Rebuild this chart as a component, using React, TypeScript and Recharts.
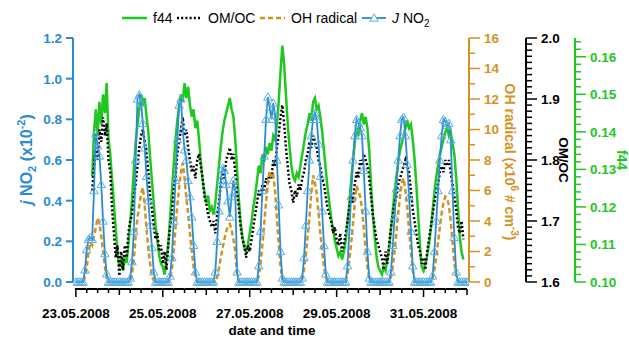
import React from 'react';
import { ComposedChart, Line, XAxis, YAxis } from 'recharts';

const FONT = '"Liberation Sans", Arial, Helvetica, sans-serif';
const BLUE = '#2a8bd3';
const BLUE_LIGHT = '#5aaee3';
const ORANGE = '#d4921f';
const GREEN = '#1ec81e';
const BLACK = '#000000';

// x axis: hours since 23.05.2008 00:00
const dateTickHours = [0, 48, 96, 144, 192];
const dateLabels = ['23.05.2008', '25.05.2008', '27.05.2008', '29.05.2008', '31.05.2008'];
const xTicks = Array.from({ length: 37 }, (_, i) => i * 6);

const jno2Ticks = [0, 0.2, 0.4, 0.6, 0.8, 1.0, 1.2];
const ohTicks = Array.from({ length: 17 }, (_, i) => i);
const omocTicks = Array.from({ length: 41 }, (_, i) => +(1.6 + i * 0.01).toFixed(2));
const f44Ticks = Array.from({ length: 33 }, (_, i) => +(0.1 + i * 0.002).toFixed(3));

// J NO2 (x10^-2 s^-1), hourly
const jno2 = [
  0, 0, 0, 0, 0, 0.06, 0.16, 0.21, 0.22, 0.21, 0.45, 0.73, 0.67, 0.62, 0.48, 0.3, 0.14, 0.04, 0, 0, 0, 0, 0, 0,
  0, 0, 0, 0, 0, 0, 0.02, 0.1, 0.25, 0.6, 0.9, 0.92, 0.88, 0.78, 0.66, 0.52, 0.4, 0.28, 0.17, 0.05, 0, 0, 0, 0,
  0, 0, 0, 0, 0.03, 0.12, 0.3, 0.5, 0.7, 0.87, 0.9, 0.75, 0.65, 0.6, 0.5, 0.42, 0.32, 0.18, 0.05, 0, 0, 0, 0, 0,
  0, 0, 0, 0, 0, 0.05, 0.2, 0.35, 0.5, 0.56, 0.55, 0.48, 0.4, 0.32, 0.42, 0.5, 0.45, 0.05, 0, 0, 0, 0, 0, 0,
  0, 0, 0, 0, 0, 0.08, 0.25, 0.45, 0.62, 0.8, 0.91, 0.86, 0.8, 0.88, 0.82, 0.6, 0.38, 0.15, 0.02, 0, 0, 0, 0, 0,
  0, 0, 0, 0, 0, 0.02, 0.12, 0.28, 0.45, 0.6, 0.72, 0.8, 0.83, 0.8, 0.68, 0.52, 0.35, 0.18, 0.04, 0, 0, 0, 0, 0,
  0, 0, 0, 0, 0, 0, 0.08, 0.25, 0.42, 0.6, 0.72, 0.8, 0.78, 0.76, 0.72, 0.55, 0.35, 0.15, 0.02, 0, 0, 0, 0, 0,
  0, 0, 0, 0, 0, 0, 0.05, 0.18, 0.32, 0.46, 0.6, 0.72, 0.8, 0.81, 0.72, 0.58, 0.42, 0.25, 0.08, 0, 0, 0, 0, 0,
  0, 0, 0, 0, 0, 0.03, 0.15, 0.3, 0.45, 0.6, 0.72, 0.8, 0.79, 0.77, 0.78, 0.7, 0.45, 0.22, 0.05, 0, 0, 0, 0, 0,
  0,
];

// OH radical (x10^6 # cm^-3), hourly
const oh = [
  0, 0, 0, 0, 0, 0.3, 1.0, 2.0, 2.6, 2.4, 3.0, 3.6, 4.2, 3.8, 3.0, 2.0, 1.0, 0.3, 0, 0, 0, 0, 0, 0,
  0, 0, 0, 0, 0, 0, 0, 0.5, 1.5, 3.0, 4.2, 5.0, 5.8, 6.2, 5.0, 3.5, 2.2, 1.2, 0.4, 0.1, 0, 0, 0, 0,
  0, 0, 0, 0, 0.2, 0.8, 2.0, 3.5, 5.0, 6.2, 7.2, 7.8, 6.8, 5.5, 4.5, 3.2, 2.0, 1.0, 0.3, 0, 0, 0, 0, 0,
  0, 0, 0, 0, 0, 0, 0.3, 0.9, 1.6, 2.2, 2.8, 3.3, 3.7, 3.8, 3.4, 2.8, 2.0, 0.5, 0, 0, 0, 0, 0, 0,
  0, 0, 0, 0, 0, 0.4, 1.2, 2.5, 3.8, 5.2, 6.5, 7.3, 6.8, 7.0, 6.0, 4.2, 2.5, 1.0, 0.2, 0, 0, 0, 0, 0,
  0, 0, 0, 0, 0, 0.2, 0.8, 1.8, 3.0, 4.3, 5.8, 7.0, 6.5, 5.8, 4.5, 3.2, 2.0, 1.0, 0.3, 0, 0, 0, 0, 0,
  0, 0, 0, 0, 0, 0, 0.5, 1.4, 2.5, 3.8, 5.2, 6.3, 6.0, 5.6, 4.8, 3.5, 2.2, 1.0, 0.2, 0, 0, 0, 0, 0,
  0, 0, 0, 0, 0, 0, 0.3, 1.0, 2.0, 3.2, 4.5, 5.6, 6.5, 6.8, 6.0, 4.8, 3.4, 2.0, 0.8, 0.2, 0, 0, 0, 0,
  0, 0, 0, 0, 0, 0.2, 0.8, 1.6, 2.6, 3.6, 4.5, 5.2, 5.6, 5.5, 5.0, 4.0, 2.6, 1.3, 0.4, 0, 0, 0, 0, 0,
  0,
];

// OM/OC, hourly
const omoc = [
  null, null, null, null, null, null, null, null, null, 1.75, 1.79, 1.82, 1.8, 1.85, 1.83, 1.87, 1.84, 1.86, 1.8, 1.78, 1.72, 1.68, 1.64, 1.66,
  1.61, 1.65, 1.62, 1.66, 1.64, 1.68, 1.7, 1.71, 1.74, 1.76, 1.79, 1.82, 1.84, 1.85, 1.83, 1.81, 1.78, 1.74, 1.72, 1.69, 1.67, 1.68, 1.65, 1.66,
  1.63, 1.65, 1.62, 1.66, 1.69, 1.71, 1.75, 1.77, 1.81, 1.83, 1.85, 1.87, 1.84, 1.85, 1.82, 1.8, 1.78, 1.79, 1.77, 1.8, 1.81, 1.79, 1.77, 1.74,
  1.73, 1.71, 1.7, 1.69, 1.7, 1.68, 1.71, 1.73, 1.76, 1.78, 1.77, 1.8, 1.81, 1.82, 1.8, 1.81, 1.78, 1.75, 1.72, 1.69, 1.67, 1.66, 1.64, 1.66,
  1.65, 1.67, 1.69, 1.71, 1.73, 1.75, 1.74, 1.76, 1.75, 1.77, 1.76, 1.78, 1.77, 1.8, 1.79, 1.82, 1.84, 1.87, 1.89, 1.86, 1.82, 1.79, 1.76, 1.75,
  1.73, 1.75, 1.74, 1.76, 1.75, 1.77, 1.78, 1.8, 1.81, 1.83, 1.82, 1.84, 1.83, 1.82, 1.8, 1.79, 1.77, 1.76, 1.74, 1.72, 1.71, 1.7, 1.68, 1.69,
  1.67, 1.66, 1.68, 1.65, 1.66, 1.68, 1.7, 1.72, 1.74, 1.73, 1.76, 1.78, 1.77, 1.8, 1.79, 1.81, 1.8, 1.79, 1.77, 1.74, 1.71, 1.69, 1.67, 1.66,
  1.65, 1.64, 1.62, 1.65, 1.63, 1.66, 1.69, 1.71, 1.73, 1.74, 1.76, 1.77, 1.78, 1.79, 1.8, 1.79, 1.78, 1.75, 1.72, 1.7, 1.68, 1.66, 1.65, 1.63,
  1.64, 1.62, 1.65, 1.67, 1.69, 1.71, 1.73, 1.75, 1.76, 1.78, 1.79, 1.78, 1.8, 1.79, 1.8, 1.78, 1.76, 1.74, 1.72, 1.69, 1.68, 1.7, 1.67, null,
  null,
];

// f44, hourly
const f44 = [
  null, null, null, null, null, null, null, null, null, 0.128, 0.14, 0.146, 0.139, 0.148, 0.142, 0.15, 0.145, 0.153, 0.138, 0.134, 0.127, 0.121, 0.114, 0.108,
  0.104, 0.106, 0.103, 0.107, 0.105, 0.11, 0.116, 0.122, 0.13, 0.137, 0.142, 0.146, 0.15, 0.147, 0.149, 0.144, 0.14, 0.133, 0.127, 0.121, 0.115, 0.111, 0.107, 0.105,
  0.104, 0.102, 0.106, 0.11, 0.117, 0.124, 0.131, 0.138, 0.143, 0.147, 0.15, 0.148, 0.153, 0.149, 0.152, 0.147, 0.144, 0.146, 0.141, 0.143, 0.138, 0.132, 0.127, 0.124,
  0.121, 0.123, 0.119, 0.12, 0.118, 0.121, 0.126, 0.131, 0.136, 0.14, 0.143, 0.145, 0.147, 0.149, 0.146, 0.144, 0.138, 0.13, 0.122, 0.116, 0.112, 0.109, 0.108, 0.11,
  0.113, 0.116, 0.12, 0.123, 0.127, 0.131, 0.129, 0.134, 0.132, 0.136, 0.134, 0.137, 0.135, 0.139, 0.138, 0.142, 0.148, 0.156, 0.163, 0.158, 0.15, 0.142, 0.136, 0.131,
  0.128, 0.127, 0.129, 0.128, 0.131, 0.134, 0.137, 0.14, 0.142, 0.145, 0.143, 0.148, 0.149, 0.146, 0.147, 0.144, 0.14, 0.135, 0.13, 0.125, 0.121, 0.117, 0.114, 0.111,
  0.109, 0.107, 0.108, 0.106, 0.108, 0.111, 0.116, 0.121, 0.127, 0.132, 0.137, 0.141, 0.139, 0.143, 0.145, 0.142, 0.144, 0.141, 0.135, 0.126, 0.118, 0.112, 0.107, 0.104,
  0.103, 0.102, 0.104, 0.103, 0.106, 0.109, 0.114, 0.119, 0.124, 0.128, 0.132, 0.135, 0.137, 0.139, 0.141, 0.143, 0.141, 0.142, 0.138, 0.133, 0.126, 0.118, 0.11, 0.104,
  0.103, 0.105, 0.107, 0.11, 0.114, 0.119, 0.124, 0.128, 0.131, 0.134, 0.136, 0.138, 0.14, 0.141, 0.139, 0.14, 0.137, 0.134, 0.128, 0.12, 0.112, 0.108, 0.106, null,
  null,
];

const table = jno2.map((v, i) => ({
  t: i,
  jno2: v,
  oh: oh[i],
  omoc: omoc[i],
  f44: f44[i],
}));

const X_DOMAIN: [number, number] = [-1.6, 217.1];
const PLOT_W = 396;
const PX_PER_HOUR = PLOT_W / (X_DOMAIN[1] - X_DOMAIN[0]);

const XTick = (props: any) => {
  const { x, y, payload } = props;
  const v = payload.value;
  const seg = v < 216 ? 6 * PX_PER_HOUR : 0;
  const len = v % 48 === 0 ? 8 : v % 24 === 0 ? 6 : 4;
  const ay = y + 7;
  const idx = dateTickHours.indexOf(v);
  return (
    <g>
      <line x1={x - (v === 0 ? 1 : 0)} x2={x + seg} y1={ay} y2={ay} stroke={BLACK} strokeWidth={2} />
      <line x1={x} x2={x} y1={ay} y2={ay + len} stroke={BLACK} strokeWidth={1.5} />
      {idx >= 0 && (
        <text x={x} y={ay + 29} textAnchor="middle" fill={BLACK} fontWeight="bold" fontSize={13.5} fontFamily={FONT}>
          {dateLabels[idx]}
        </text>
      )}
    </g>
  );
};

const LeftTick = (props: any) => {
  const { x, y, payload } = props;
  return (
    <g>
      <line x1={x - 7} x2={x} y1={y} y2={y} stroke={BLUE} strokeWidth={2} />
      <text x={x - 11} y={y} dy="0.36em" textAnchor="end" fill={BLUE} fontWeight="bold" fontSize={13.5} fontFamily={FONT}>
        {Number(payload.value).toFixed(1)}
      </text>
    </g>
  );
};

const makeRightTick = (color: string, isMajor: (v: number) => boolean, fmt: (v: number) => string) => (props: any) => {
  const { x, y, payload } = props;
  const v = Number(payload.value);
  const major = isMajor(v);
  return (
    <g>
      <line x1={x} x2={x + (major ? 11 : 6)} y1={y} y2={y} stroke={color} strokeWidth={1.5} />
      {major && (
        <text x={x + 15} y={y} dy="0.36em" textAnchor="start" fill={color} fontWeight="bold" fontSize={13.5} fontFamily={FONT}>
          {fmt(v)}
        </text>
      )}
    </g>
  );
};

const OhTick = makeRightTick(ORANGE, (v) => Math.round(v) % 2 === 0, (v) => String(Math.round(v)));
const OmocTick = makeRightTick(BLACK, (v) => Math.round(v * 100) % 10 === 0, (v) => v.toFixed(1));
const F44Tick = makeRightTick(GREEN, (v) => Math.round(v * 1000) % 10 === 0, (v) => v.toFixed(2));

const TriangleDot = (props: any) => {
  const { cx, cy, index } = props;
  if (cx == null || cy == null) return <g key={`e${index}`} />;
  return (
    <path
      key={`t${index}`}
      d={`M${cx},${cy - 4.2} L${cx + 4.2},${cy + 3.2} L${cx - 4.2},${cy + 3.2} Z`}
      fill="none"
      stroke={BLUE_LIGHT}
      strokeWidth={1}
    />
  );
};

const boldText = { fontFamily: FONT, fontWeight: 'bold' as const };

export default function App() {
  return (
    <div style={{ position: 'absolute', left: 0, top: 0, width: 629, height: 338, background: '#fff' }}>
      <ComposedChart width={629} height={338} data={table} margin={{ top: 38, right: 0, bottom: 0, left: 0 }}>
        <XAxis
          type="number"
          dataKey="t"
          domain={X_DOMAIN}
          allowDataOverflow
          ticks={xTicks}
          interval={0}
          tickSize={0}
          tickMargin={0}
          axisLine={false}
          tickLine={false}
          tick={<XTick />}
          height={56}
        />
        <YAxis
          yAxisId="a_j"
          orientation="left"
          width={73}
          domain={[0, 1.2]}
          ticks={jno2Ticks}
          interval={0}
          tickSize={0}
          tickMargin={0}
          tickLine={false}
          axisLine={{ stroke: BLUE, strokeWidth: 2 }}
          tick={<LeftTick />}
        />
        <YAxis
          yAxisId="b_oh"
          orientation="right"
          width={57}
          domain={[0, 16]}
          ticks={ohTicks}
          interval={0}
          tickSize={0}
          tickMargin={0}
          tickLine={false}
          axisLine={{ stroke: ORANGE, strokeWidth: 2 }}
          tick={<OhTick />}
        />
        <YAxis
          yAxisId="c_omoc"
          orientation="right"
          width={49}
          domain={[1.6, 2.0]}
          ticks={omocTicks}
          interval={0}
          tickSize={0}
          tickMargin={0}
          tickLine={false}
          axisLine={{ stroke: BLACK, strokeWidth: 2 }}
          tick={<OmocTick />}
        />
        <YAxis
          yAxisId="d_f44"
          orientation="right"
          width={54}
          domain={[0.1, 0.165]}
          ticks={f44Ticks}
          interval={0}
          tickSize={0}
          tickMargin={0}
          tickLine={false}
          axisLine={{ stroke: GREEN, strokeWidth: 2 }}
          tick={<F44Tick />}
        />
        <Line yAxisId="d_f44" dataKey="f44" type="linear" stroke={GREEN} strokeWidth={2.5} dot={false} activeDot={false} isAnimationActive={false} />
        <Line yAxisId="c_omoc" dataKey="omoc" type="linear" stroke={BLACK} strokeWidth={2.5} strokeDasharray="2 2.2" dot={false} activeDot={false} isAnimationActive={false} />
        <Line yAxisId="b_oh" dataKey="oh" type="linear" stroke={ORANGE} strokeWidth={2.5} strokeDasharray="5 3" dot={false} activeDot={false} isAnimationActive={false} />
        <Line yAxisId="a_j" dataKey="jno2" type="linear" stroke={BLUE} strokeWidth={1.8} dot={TriangleDot} activeDot={false} isAnimationActive={false} />
      </ComposedChart>
      <svg width={629} height={338} style={{ position: 'absolute', left: 0, top: 0, pointerEvents: 'none' }}>
        {/* legend */}
        <g fontFamily={FONT} fontSize={14} fill={BLACK}>
          <line x1={122} x2={147} y1={18} y2={18} stroke={GREEN} strokeWidth={2.5} />
          <text x={153} y={23}>f44</text>
          <line x1={177} x2={202} y1={18} y2={18} stroke={BLACK} strokeWidth={2.5} strokeDasharray="2 2.2" />
          <text x={208} y={23}>OM/OC</text>
          <line x1={260} x2={285} y1={18} y2={18} stroke={ORANGE} strokeWidth={2.5} strokeDasharray="5 3" />
          <text x={291} y={23}>OH radical</text>
          <line x1={362} x2={386} y1={18} y2={18} stroke={BLUE} strokeWidth={1.8} />
          <path d="M374,13.8 L378.2,21.2 L369.8,21.2 Z" fill="#fff" stroke={BLUE_LIGHT} strokeWidth={1} />
          <text x={392} y={23}>
            <tspan fontStyle="italic">J</tspan>
            <tspan> NO</tspan>
            <tspan fontSize={10} dy={4}>2</tspan>
          </text>
        </g>
        {/* axis titles */}
        <text transform="translate(32,159.5) rotate(-90)" textAnchor="middle" fill={BLUE} fontSize={16} {...boldText}>
          <tspan fontStyle="italic">j</tspan>
          <tspan> NO</tspan>
          <tspan fontSize={11} dy={4}>2</tspan>
          <tspan dy={-4}> (x10</tspan>
          <tspan fontSize={11} dy={-7}>-2</tspan>
          <tspan dy={7}>)</tspan>
        </text>
        <text transform="translate(505,162) rotate(90)" textAnchor="middle" fill={ORANGE} fontSize={14} {...boldText}>
          <tspan>OH radical (x10</tspan>
          <tspan fontSize={10} dy={-6}>6</tspan>
          <tspan dy={6}> # cm</tspan>
          <tspan fontSize={10} dy={-6}>-3</tspan>
          <tspan dy={6}>)</tspan>
        </text>
        <text transform="translate(559,160) rotate(90)" textAnchor="middle" fill={BLACK} fontSize={13.5} {...boldText}>
          OM/OC
        </text>
        <text transform="translate(617,160) rotate(90)" textAnchor="middle" fill={GREEN} fontSize={14} {...boldText}>
          f44
        </text>
        <text x={272} y={335} textAnchor="middle" fill={BLACK} fontSize={13.5} {...boldText}>
          date and time
        </text>
      </svg>
    </div>
  );
}
